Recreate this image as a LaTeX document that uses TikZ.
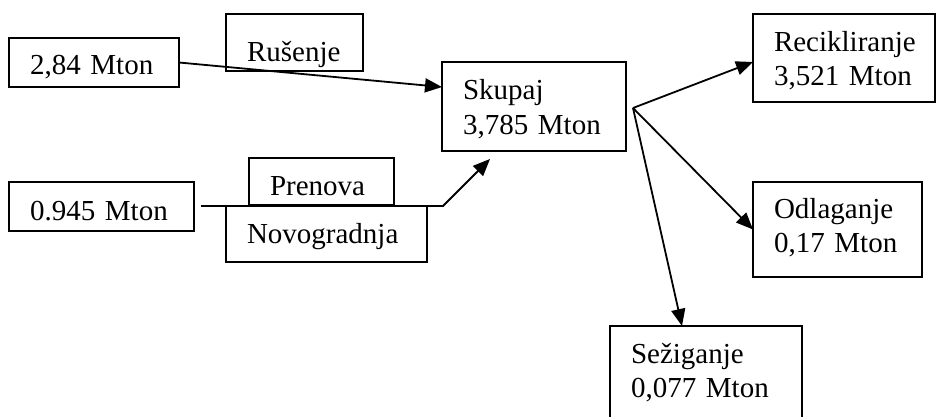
\documentclass[tikz,border=0pt]{standalone}
\usepackage{fontspec}
\setmainfont{Liberation Serif}
\usetikzlibrary{arrows.meta}
\begin{document}
\begin{tikzpicture}[x=1pt,y=-1pt,
  flowbox/.style={draw, line width=2pt, rectangle, anchor=north west,
    outer sep=0pt, inner xsep=21pt, inner ysep=0pt, align=left,
    font=\fontsize{29}{34}\selectfont},
  flow/.style={line width=1.8pt, -{Triangle[length=17pt,width=14pt]}},
  plain/.style={line width=1.8pt}]
\useasboundingbox (0,0) rectangle (936,417);

% sources
\node[flowbox, text width=128pt, text height=37pt, text depth=12pt] (src1) at (9,38) {2,84~Mton};
\node[flowbox, text width=143pt, text height=38pt, text depth=11pt] (src2) at (9,182) {0.945~Mton};

% activity labels
\node[flowbox, text width=95pt, text height=48pt, text depth=9pt] (rus) at (226,14) {Rušenje};
\node[flowbox, text width=103pt, text height=37pt, text depth=10pt] (pren) at (249,158) {Prenova};
\node[flowbox, text width=159pt, text height=37pt, text depth=19pt] (novo) at (226,206) {Novogradnja};

% total
\node[flowbox, text width=142pt, text height=38pt, text depth=51pt] (skupaj) at (442,62) {Skupaj\\3,785~Mton};

% destinations
\node[flowbox, text width=140pt, text height=38pt, text depth=50pt] (rec) at (753,14) {Recikliranje\\3,521~Mton};
\node[flowbox, text width=127pt, text height=36pt, text depth=59pt] (odl) at (753,182) {Odlaganje\\0,17~Mton};
\node[flowbox, text width=150pt, text height=37pt, text depth=80pt] (sez) at (610,326) {Sežiganje\\0,077~Mton};

% inflows
\draw[flow] (src1.east) -- ([yshift=-25pt]skupaj.north west);
\coordinate (start2) at ([xshift=7pt]src2.east);
\coordinate (bend) at (443,206);
\coordinate (intip) at (490,159);
\draw[plain] (start2 |- novo.north) -- (novo.north west);
\draw[flow] (novo.north east) -- (bend) -- (intip);

% outflows
\coordinate (fan) at (633,108);
\draw[flow] (fan) -- ([yshift=-4pt]rec.west);
\draw[flow] (fan) -- (odl.west);
\draw[flow] (fan) -- ([xshift=-24pt]sez.north);
\end{tikzpicture}
\end{document}
